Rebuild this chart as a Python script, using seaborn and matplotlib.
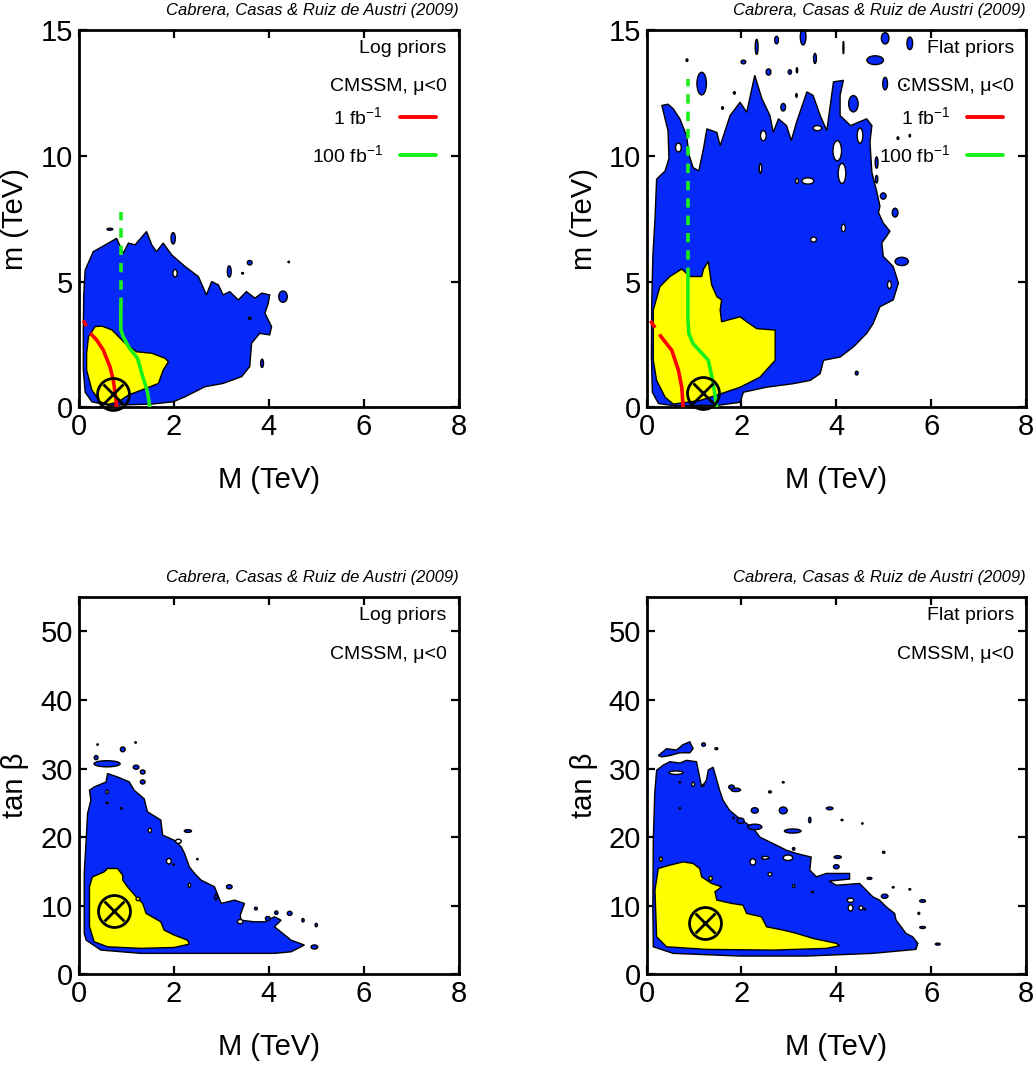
import matplotlib
matplotlib.use("Agg")
import matplotlib.pyplot as plt
from matplotlib.patches import Ellipse, Polygon
import seaborn as sns

sns.set_style("ticks")
plt.rcParams["font.family"] = ["Liberation Sans", "DejaVu Sans"]
plt.rcParams["mathtext.fontset"] = "custom"
plt.rcParams["mathtext.rm"] = "Liberation Sans"
plt.rcParams["mathtext.it"] = "Liberation Sans:italic"
for key in ["text.color", "axes.labelcolor", "xtick.color", "ytick.color", "axes.edgecolor"]:
    plt.rcParams[key] = "black"

BLUE = "#0628f8"
YELLOW = "#ffff00"
RED = "#ff0000"
GREEN = "#19f019"

CREDIT = "Cabrera, Casas & Ruiz de Austri (2009)"
MODEL = "CMSSM, μ<0"
LUMI_LABELS = ["1 fb$^{-1}$", "100 fb$^{-1}$"]

# ---------------- (M, m) plane, log priors ----------------
tl_blue = [(0.28, 0.22), (0.14, 0.6), (0.10, 1.5), (0.10, 3.0), (0.11, 4.5), (0.14, 5.46),
           (0.31, 6.19), (0.63, 6.53), (0.80, 6.72), (0.94, 6.13), (1.05, 6.53), (1.19, 6.46),
           (1.43, 6.99), (1.54, 6.46), (1.64, 6.19), (1.78, 6.53), (1.96, 6.06), (2.24, 5.6),
           (2.52, 5.2), (2.69, 4.47), (2.80, 5.0), (2.94, 4.87), (3.04, 4.47), (3.18, 4.60),
           (3.36, 4.27), (3.53, 4.60), (3.71, 4.34), (3.85, 4.54), (4.02, 4.47), (3.99, 4.14),
           (3.92, 3.74), (4.06, 3.21), (4.02, 2.88), (3.81, 2.94), (3.64, 2.55), (3.60, 1.62),
           (3.43, 1.22), (3.04, 0.95), (2.66, 0.82), (2.24, 0.42), (1.99, 0.22), (1.54, 0.13),
           (0.63, 0.08)]
tl_yellow = [(0.35, 3.21), (0.49, 3.23), (0.70, 3.08), (0.98, 2.55), (1.22, 2.21), (1.54, 2.15),
             (1.82, 1.95), (1.89, 1.81), (1.78, 1.48), (1.68, 0.95), (1.33, 0.69), (1.05, 0.49),
             (0.84, 0.22), (0.63, 0.12), (0.45, 0.22), (0.28, 0.69), (0.17, 1.48), (0.17, 2.15),
             (0.21, 2.81)]
tl_islands = [(1.99, 6.72, 0.09, 0.45), (3.17, 5.40, 0.08, 0.45), (3.60, 5.75, 0.10, 0.18),
              (4.30, 4.40, 0.18, 0.45), (3.86, 1.75, 0.06, 0.33), (0.66, 7.08, 0.12, 0.08),
              (3.45, 5.33, 0.04, 0.06), (4.42, 5.78, 0.03, 0.06), (3.60, 3.54, 0.06, 0.08)]
tl_holes = [(2.03, 5.33, 0.09, 0.30)]
tl_yislands = []
tl_best = (0.73, 0.53)
tl_red_solid = [(0.80, 0.0), (0.79, 0.29), (0.73, 1.09), (0.66, 1.62), (0.52, 2.28), (0.38, 2.68)]
tl_red_dashed = [(0.38, 2.68), (0.28, 2.88), (0.21, 3.08), (0.10, 3.45)]
tl_green_solid = [(1.50, 0.0), (1.45, 0.62), (1.33, 1.35), (1.24, 1.95), (1.05, 2.41),
                  (0.94, 2.81), (0.89, 3.08), (0.89, 4.0)]
tl_green_dashed = [(0.89, 4.0), (0.89, 7.78)]

# ---------------- (M, m) plane, flat priors ----------------
tr_blue = [(0.25, 0.15), (0.12, 0.6), (0.10, 2.0), (0.105, 4.0), (0.13, 6.0), (0.175, 7.47),
           (0.21, 9.07), (0.39, 9.4), (0.47, 9.9), (0.45, 11.0), (0.32, 12.0), (0.45, 12.05),
           (0.56, 11.87), (0.70, 11.47), (0.84, 10.8), (0.90, 10.0), (0.98, 9.53), (1.10, 9.4),
           (1.20, 10.3), (1.27, 11.07), (1.48, 10.93), (1.55, 10.4), (1.76, 11.6), (1.97, 12.13),
           (2.11, 11.73), (2.28, 13.2), (2.43, 12.27), (2.60, 11.6), (2.67, 10.93), (2.78, 11.47),
           (2.95, 11.2), (3.05, 10.6), (3.16, 11.33), (3.38, 12.54), (3.51, 12.4), (3.66, 11.6),
           (3.80, 11.0), (3.94, 12.94), (4.15, 13.0), (4.08, 12.4), (4.08, 11.6), (4.30, 11.2),
           (4.64, 11.47), (4.75, 11.2), (4.71, 10.54), (4.75, 9.34), (4.85, 8.6), (4.92, 8.0),
           (4.89, 7.74), (4.99, 7.33), (5.13, 7.0), (5.06, 6.8), (4.96, 6.54), (4.99, 6.0),
           (5.20, 5.6), (5.31, 4.94), (5.20, 4.27), (4.92, 4.0), (4.78, 3.34), (4.64, 2.94),
           (4.36, 2.4), (4.08, 2.0), (3.73, 1.87), (3.66, 1.34), (3.45, 1.07), (3.09, 0.94),
           (2.53, 0.80), (2.04, 0.60), (1.97, 0.2), (1.50, 0.08), (0.60, 0.06)]
tr_yellow = [(0.14, 3.87), (0.28, 4.8), (0.49, 5.2), (0.74, 5.5), (0.91, 5.2), (1.16, 5.2),
             (1.20, 5.5), (1.30, 5.8), (1.37, 4.87), (1.48, 4.4), (1.58, 4.27), (1.55, 3.87),
             (1.58, 3.4), (1.97, 3.6), (2.11, 3.4), (2.32, 3.13), (2.71, 3.07), (2.71, 1.87),
             (2.39, 1.2), (1.97, 0.8), (1.55, 0.53), (1.12, 0.27), (0.56, 0.13), (0.39, 0.4),
             (0.21, 1.07), (0.14, 1.87)]
tr_islands = [(3.30, 14.73, 0.12, 0.65), (2.74, 14.6, 0.08, 0.3), (2.32, 14.33, 0.06, 0.6),
              (5.03, 14.67, 0.16, 0.45), (5.55, 14.47, 0.12, 0.5), (4.82, 13.8, 0.35, 0.35),
              (3.55, 13.87, 0.06, 0.4), (5.03, 12.87, 0.10, 0.5), (4.36, 12.07, 0.20, 0.65),
              (1.16, 12.87, 0.20, 0.9), (2.57, 13.33, 0.10, 0.25), (3.02, 13.33, 0.07, 0.18),
              (3.17, 13.4, 0.03, 0.2), (2.04, 13.73, 0.10, 0.15), (2.88, 11.93, 0.10, 0.3),
              (3.16, 12.4, 0.03, 0.15), (4.85, 9.73, 0.06, 0.45), (4.85, 9.07, 0.05, 0.3),
              (4.99, 8.4, 0.12, 0.25), (5.24, 7.74, 0.12, 0.35), (5.38, 5.8, 0.28, 0.33),
              (4.43, 1.36, 0.06, 0.15), (4.15, 14.3, 0.02, 0.5), (0.85, 13.8, 0.04, 0.1),
              (1.85, 12.5, 0.04, 0.1), (1.60, 11.9, 0.04, 0.1), (5.45, 12.8, 0.03, 0.08),
              (5.55, 10.8, 0.03, 0.1), (5.30, 10.7, 0.04, 0.1)]
tr_holes = [(0.67, 10.33, 0.12, 0.35), (2.46, 10.8, 0.12, 0.4), (3.60, 11.1, 0.18, 0.2),
            (4.50, 10.8, 0.12, 0.6), (3.17, 9.0, 0.06, 0.2), (2.40, 9.5, 0.05, 0.4),
            (3.40, 9.0, 0.25, 0.25), (4.02, 10.2, 0.18, 0.8), (4.12, 9.3, 0.16, 0.8),
            (3.52, 6.67, 0.12, 0.2), (4.15, 7.13, 0.08, 0.3), (5.12, 4.87, 0.08, 0.3)]
tr_yislands = []
tr_best = (1.19, 0.56)
tr_red_solid = [(0.77, 0.0), (0.74, 0.8), (0.67, 1.47), (0.53, 2.27), (0.39, 2.6)]
tr_red_dashed = [(0.39, 2.6), (0.28, 2.87), (0.21, 3.07), (0.08, 3.44)]
tr_green_solid = [(1.48, 0.0), (1.40, 1.0), (1.30, 1.87), (0.98, 2.53), (0.89, 2.93),
                  (0.87, 3.5), (0.87, 5.2)]
tr_green_dashed = [(0.87, 5.2), (0.87, 13.07)]

# ---------------- (M, tan beta) plane, log priors ----------------
bl_blue = [(0.16, 5.0), (0.47, 3.55), (1.31, 3.07), (2.72, 3.07), (4.12, 3.07), (4.47, 3.3),
           (4.75, 4.28), (4.47, 5.0), (4.12, 6.95), (4.26, 7.9), (4.12, 8.4), (3.91, 7.67),
           (3.70, 7.67), (3.42, 7.9), (3.40, 8.6), (3.49, 10.35), (3.28, 10.83), (3.0, 10.35),
           (2.86, 12.77), (2.58, 13.74), (2.44, 14.72), (2.33, 15.68), (2.23, 17.63),
           (2.16, 18.6), (2.01, 19.56), (1.77, 20.3), (1.73, 22.5), (1.45, 23.7), (1.38, 25.6),
           (1.17, 26.84), (1.07, 28.05), (0.82, 28.78), (0.61, 29.27), (0.58, 28.05),
           (0.33, 27.32), (0.23, 26.84), (0.26, 25.39), (0.19, 23.45), (0.16, 19.56),
           (0.12, 14.72), (0.12, 5.98)]
bl_yellow = [(0.29, 14.2), (0.54, 14.95), (0.61, 15.44), (0.82, 15.44), (0.93, 14.47),
             (0.93, 13.74), (1.03, 12.77), (1.21, 11.31), (1.35, 10.35), (1.42, 8.9),
             (1.73, 7.67), (1.80, 6.46), (2.01, 5.74), (2.29, 5.0), (2.33, 4.42), (2.01, 3.93),
             (1.31, 3.8), (0.61, 4.03), (0.33, 4.76), (0.23, 6.95), (0.23, 12.77)]
bl_islands = [(0.60, 30.7, 0.55, 0.9), (0.93, 32.8, 0.10, 0.7), (0.37, 31.6, 0.08, 0.6),
              (1.21, 30.2, 0.12, 0.6), (1.35, 29.5, 0.10, 0.6), (1.35, 28.05, 0.10, 0.6),
              (2.30, 20.9, 0.15, 0.4), (3.17, 12.77, 0.12, 0.6), (2.89, 11.3, 0.06, 0.9),
              (3.73, 9.6, 0.06, 0.4), (4.16, 9.0, 0.07, 0.5), (4.44, 8.9, 0.10, 0.6),
              (4.72, 7.9, 0.05, 0.5), (5.00, 7.2, 0.05, 0.5), (4.96, 4.0, 0.14, 0.6),
              (3.98, 8.15, 0.10, 0.6), (0.40, 33.5, 0.03, 0.2), (1.20, 33.8, 0.03, 0.2),
              (0.60, 25.0, 0.04, 0.2), (0.90, 24.2, 0.04, 0.2), (2.50, 16.8, 0.03, 0.2),
              (2.00, 16.0, 0.03, 0.2)]
bl_holes = [(1.50, 21.0, 0.07, 0.6), (1.90, 16.5, 0.10, 0.8), (2.33, 13.0, 0.05, 0.6),
            (0.60, 26.6, 0.05, 0.5), (3.40, 7.7, 0.12, 0.6), (2.10, 19.4, 0.12, 0.6)]
bl_yislands = [(1.25, 11.0, 0.08, 0.5)]
bl_best = (0.75, 9.28)

# ---------------- (M, tan beta) plane, flat priors ----------------
br_blue = [(0.14, 4.03), (0.56, 3.07), (1.96, 2.68), (3.37, 2.68), (4.77, 3.07), (5.68, 3.65),
           (5.72, 4.53), (5.61, 5.49), (5.47, 5.98), (5.26, 7.92), (5.23, 8.89), (5.05, 9.86),
           (4.91, 10.83), (4.77, 11.31), (4.63, 12.29), (4.49, 13.26), (4.0, 13.0),
           (3.85, 13.6), (4.28, 13.9), (4.28, 14.72), (3.79, 14.72), (3.58, 14.23), (3.44, 15.2),
           (3.47, 17.1), (3.16, 17.63), (2.95, 18.1), (2.60, 19.3), (2.39, 20.0), (2.28, 21.0),
           (2.11, 22.0), (1.96, 22.7), (1.75, 23.9), (1.61, 25.4), (1.54, 26.8), (1.44, 29.27),
           (1.40, 30.2), (1.30, 29.8), (1.26, 28.3), (1.16, 27.3), (1.05, 31.0), (0.84, 31.2),
           (0.70, 30.8), (0.49, 31.0), (0.35, 30.5), (0.21, 29.75), (0.17, 26.4), (0.14, 19.6),
           (0.13, 9.86)]
br_top = [(0.245, 31.9), (0.42, 32.9), (0.63, 32.7), (0.77, 33.5), (0.91, 33.9), (0.98, 32.9),
          (0.91, 32.3), (0.70, 32.3), (0.49, 31.9), (0.32, 31.7)]
br_yellow = [(0.245, 15.44), (0.49, 15.93), (0.77, 16.4), (0.98, 16.17), (1.12, 15.44),
             (1.16, 14.22), (1.37, 13.26), (1.58, 12.77), (1.44, 12.04), (1.48, 10.83),
             (1.79, 10.35), (2.03, 10.1), (2.11, 8.89), (2.42, 8.4), (2.53, 6.94), (2.88, 6.46),
             (3.16, 5.98), (3.51, 5.25), (4.0, 4.53), (4.07, 4.18), (3.79, 3.8), (2.67, 3.55),
             (1.26, 3.65), (0.42, 4.03), (0.21, 5.49), (0.175, 12.29)]
br_islands = [(1.79, 27.3, 0.12, 0.6), (1.88, 26.9, 0.20, 0.5), (2.28, 23.9, 0.15, 0.8),
              (2.60, 26.6, 0.06, 0.3), (2.88, 23.9, 0.17, 1.0), (3.86, 24.2, 0.14, 0.4),
              (3.44, 22.5, 0.05, 0.8), (3.08, 20.9, 0.35, 0.6), (2.28, 21.5, 0.30, 0.8),
              (1.98, 22.4, 0.15, 0.8), (4.03, 17.1, 0.15, 0.4), (4.00, 15.7, 0.12, 0.6),
              (4.70, 14.0, 0.10, 0.3), (5.02, 11.4, 0.14, 0.6), (5.82, 10.7, 0.12, 0.4),
              (5.82, 6.85, 0.12, 0.3), (6.14, 4.42, 0.10, 0.3), (5.00, 17.8, 0.05, 0.3),
              (5.74, 8.9, 0.04, 0.3), (3.10, 18.3, 0.05, 0.4), (2.88, 28.0, 0.04, 0.2),
              (4.12, 22.5, 0.04, 0.2), (5.20, 12.7, 0.04, 0.2), (5.55, 12.4, 0.04, 0.2),
              (1.20, 33.5, 0.08, 0.5), (1.47, 32.9, 0.06, 0.3), (4.55, 22.0, 0.03, 0.2),
              (0.70, 28.0, 0.03, 0.2), (1.20, 27.6, 0.03, 0.2), (0.70, 24.2, 0.03, 0.2),
              (1.83, 22.8, 0.03, 0.2), (3.50, 12.0, 0.04, 0.2), (4.60, 9.5, 0.04, 0.2)]
br_holes = [(0.62, 29.4, 0.30, 0.5), (0.98, 27.7, 0.06, 0.6), (2.24, 16.4, 0.12, 0.9),
            (2.50, 17.0, 0.15, 0.4), (2.98, 17.0, 0.20, 0.8), (2.60, 14.6, 0.08, 0.5),
            (3.10, 12.9, 0.05, 0.4), (4.30, 10.8, 0.14, 0.6), (4.30, 9.7, 0.10, 0.9),
            (4.52, 9.7, 0.08, 0.6)]
br_yislands = [(0.30, 16.8, 0.06, 0.6), (1.35, 14.0, 0.07, 0.6)]
br_best = (1.23, 7.43)


def draw_regions(ax, blue, holes, islands, yellow, yislands, extra=()):
    ax.add_patch(Polygon(blue, closed=True, fc=BLUE, ec="black", lw=1.0, zorder=2))
    for poly in extra:
        ax.add_patch(Polygon(poly, closed=True, fc=BLUE, ec="black", lw=1.0, zorder=2))
    for x, y, w, h in holes:
        ax.add_patch(Ellipse((x, y), w, h, fc="white", ec="black", lw=1.0, zorder=2.2))
    for x, y, w, h in islands:
        ax.add_patch(Ellipse((x, y), w, h, fc=BLUE, ec="black", lw=1.0, zorder=2.2))
    ax.add_patch(Polygon(yellow, closed=True, fc=YELLOW, ec="black", lw=1.0, zorder=3))
    for x, y, w, h in yislands:
        ax.add_patch(Ellipse((x, y), w, h, fc=YELLOW, ec="black", lw=1.0, zorder=3.1))


def draw_curve(ax, pts, color, dashed):
    xs = [p[0] for p in pts]
    ys = [p[1] for p in pts]
    sns.lineplot(x=xs, y=ys, sort=False, estimator=None, color=color, lw=2.6,
                 linestyle=(0, (2.6, 2.2)) if dashed else "-", ax=ax, zorder=4)


def draw_best(ax, pt):
    ax.plot(*pt, marker="o", ms=23, mfc="none", mec="black", mew=2.0, zorder=5, clip_on=False)
    ax.plot(*pt, marker="x", ms=14, mec="black", mew=2.0, zorder=5, clip_on=False)


def style_axes(ax, ymax, yticks, ylabel, prior, legend):
    ax.set_xlim(0, 8)
    ax.set_ylim(0, ymax)
    ax.set_xticks([0, 2, 4, 6, 8])
    ax.set_yticks(yticks)
    ax.tick_params(direction="in", top=True, right=True, length=6, width=1.6,
                   labelsize=21, pad=4, colors="black")
    for s in ax.spines.values():
        s.set_linewidth(2.0)
        s.set_visible(True)
        s.set_color("black")
    ax.set_xlabel("M (TeV)", fontsize=21, labelpad=18)
    ax.set_ylabel(ylabel, fontsize=21, labelpad=8)
    ax.text(1.0, 1.053, CREDIT, transform=ax.transAxes, ha="right", va="center",
            fontsize=12, style="italic")
    ax.text(0.968, 0.952, prior, transform=ax.transAxes, ha="right", va="center", fontsize=14)
    ax.text(0.968, 0.849, MODEL, transform=ax.transAxes, ha="right", va="center", fontsize=14)
    if legend:
        for lab, col, yy in zip(LUMI_LABELS, [RED, GREEN], [0.769, 0.668]):
            ax.text(0.80, yy, lab, transform=ax.transAxes, ha="right", va="center", fontsize=14)
            ax.plot([0.845, 0.94], [yy, yy], transform=ax.transAxes, color=col, lw=2.8,
                    solid_capstyle="round", zorder=6)


fig = plt.figure(figsize=(10.36, 10.68), dpi=100)
ax_tl = fig.add_axes([0.0758, 0.6186, 0.3672, 0.3533])
ax_tr = fig.add_axes([0.6242, 0.6186, 0.3661, 0.3533])
ax_bl = fig.add_axes([0.0758, 0.0876, 0.3672, 0.3534])
ax_br = fig.add_axes([0.6242, 0.0876, 0.3661, 0.3534])

draw_regions(ax_tl, tl_blue, tl_holes, tl_islands, tl_yellow, tl_yislands)
for pts, col, d in [(tl_red_dashed, RED, True), (tl_red_solid, RED, False),
                    (tl_green_dashed, GREEN, True), (tl_green_solid, GREEN, False)]:
    draw_curve(ax_tl, pts, col, d)
draw_best(ax_tl, tl_best)
style_axes(ax_tl, 15, [0, 5, 10, 15], "m (TeV)", "Log priors", True)

draw_regions(ax_tr, tr_blue, tr_holes, tr_islands, tr_yellow, tr_yislands)
for pts, col, d in [(tr_red_dashed, RED, True), (tr_red_solid, RED, False),
                    (tr_green_dashed, GREEN, True), (tr_green_solid, GREEN, False)]:
    draw_curve(ax_tr, pts, col, d)
draw_best(ax_tr, tr_best)
style_axes(ax_tr, 15, [0, 5, 10, 15], "m (TeV)", "Flat priors", True)

draw_regions(ax_bl, bl_blue, bl_holes, bl_islands, bl_yellow, bl_yislands)
draw_best(ax_bl, bl_best)
style_axes(ax_bl, 55, [0, 10, 20, 30, 40, 50], "tan β", "Log priors", False)

draw_regions(ax_br, br_blue, br_holes, br_islands, br_yellow, br_yislands, extra=[br_top])
draw_best(ax_br, br_best)
style_axes(ax_br, 55, [0, 10, 20, 30, 40, 50], "tan β", "Flat priors", False)

fig.savefig("out.png", dpi=100, facecolor="white")
